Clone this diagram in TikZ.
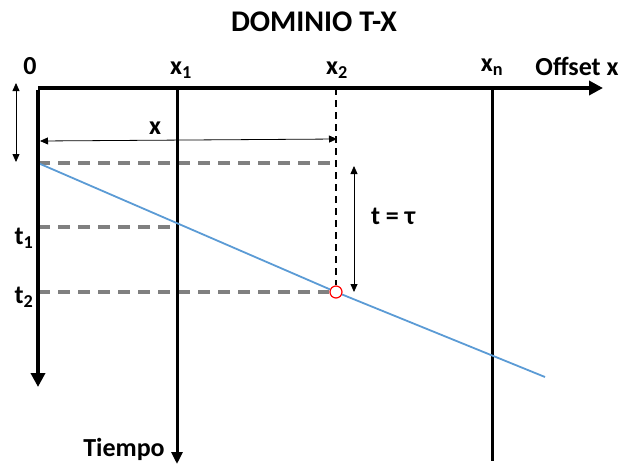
\documentclass[tikz,border=0pt]{standalone}
\usepackage{fontspec}
\setmainfont{Carlito}
\usetikzlibrary{arrows.meta}
\definecolor{rayblue}{RGB}{91,155,213}
\definecolor{guidegray}{RGB}{128,128,128}

\begin{document}
\begin{tikzpicture}[x=1pt, y=-1pt,
	lbl/.style={font=\bfseries\fontsize{26}{28}\selectfont, inner sep=0pt},
	axisline/.style={line width=4.2pt, -{Triangle[length=14pt, width=14pt]}},
	traceline/.style={line width=3pt},
	guide/.style={guidegray, line width=3.4pt, dash pattern=on 12pt off 8pt},
	dimarrow/.style={line width=0.8pt, {Triangle[length=8pt, width=7pt]}-{Triangle[length=8pt, width=7pt]}}]
	\useasboundingbox (0,0) rectangle (627,464);
	% Paths, nodes and wires:
	\node[font=\bfseries\fontsize{30}{32}\selectfont, inner sep=0pt] (title) at (314,22){DOMINIO T-X};
	\coordinate (O) at (38,88);
	\coordinate (xend) at (603,88);
	\coordinate (tend) at (38,387);
	\coordinate (xonetop) at (177,88);
	\coordinate (xonebot) at (177,464);
	\coordinate (xtwotop) at (336,88);
	\coordinate (xntop) at (492,88);
	\coordinate (xnbot) at (492,461);
	\coordinate (tzero) at (38,163);
	\coordinate (tone) at (38,227);
	\coordinate (ttwo) at (38,292);
	\coordinate (rayend) at (545,377);
	\node[circle, draw=red, fill=white, line width=1.2pt, minimum size=12pt, inner sep=0pt] (hit) at (336,292){};
	% guides
	\draw[guide] (tzero) -- (333,163) coordinate (gzero);
	\draw[guide] (tone) -- (xonetop |- tone);
	\draw[guide] (ttwo) -- (hit.west);
	\draw[line width=1.6pt, dash pattern=on 7pt off 5pt] (xtwotop) -- (hit.north);
	% traces
	\draw[traceline, -{Triangle[length=12pt, width=11pt]}] (xonetop) -- (xonebot);
	\draw[traceline] (xntop) -- (xnbot);
	\draw[rayblue, line width=1.8pt] (tzero) -- (hit) -- (rayend);
	\draw[axisline] (O) -- (xend);
	\draw[axisline] ([yshift=-2.1pt]O) -- (tend);
	% dimensions
	\coordinate (da) at (16,83);
	\coordinate (db) at (16,162);
	\draw[dimarrow] (da) -- (db);
	\draw[dimarrow] (40,141) coordinate (xa) -- (337,139) coordinate (xb);
	\draw[dimarrow] (354,166) coordinate (ta) -- (354,292) coordinate (tb);
	% labels
	\node[lbl] (lzero) at (30,66){0};
	\node[lbl] (lxone) at (181,70){x\textsubscript{1}};
	\node[lbl] (lxtwo) at (337,70){x\textsubscript{2}};
	\node[lbl] (lxn) at (492,67){x\textsubscript{n}};
	\node[lbl] (loffset) at (577,66){Offset x};
	\node[lbl] (lx) at (155,128){x};
	\node[lbl] (ltau) at (393,216){t = τ};
	\node[lbl] (ltone) at (24,238){t\textsubscript{1}};
	\node[lbl] (lttwo) at (24,297){t\textsubscript{2}};
	\node[lbl] (ltiempo) at (124,449){Tiempo};
\end{tikzpicture}
\end{document}
